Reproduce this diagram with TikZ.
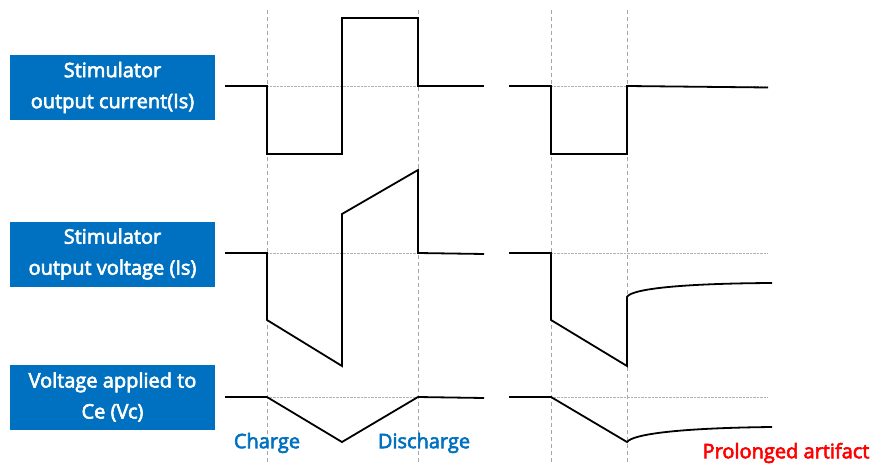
\documentclass[tikz,border=0pt]{standalone}
\usepackage{fontspec}
\setmainfont{Open Sans}[FakeBold=3]
\begin{document}
\begin{tikzpicture}[x=1pt,y=-1pt,
  lab/.style={fill=boxblue,text=white,minimum width=205pt,minimum height=65pt,inner sep=0pt,align=center,font=\fontsize{20}{31}\selectfont},
  sig/.style={line width=1.8pt,line join=miter},
  guide/.style={draw=gray!70,line width=0.7pt,dash pattern=on 4pt off 3pt},
  base/.style={draw=gray!60,line width=0.8pt,dash pattern=on 0.8pt off 0.6pt},
  note/.style={font=\fontsize{20}{24}\selectfont}]
\definecolor{boxblue}{RGB}{0,112,192}
\definecolor{txtblue}{RGB}{0,112,192}
\definecolor{txtred}{RGB}{255,0,0}
\useasboundingbox (0,0) rectangle (877,465);
% guides
\foreach \gx in {267,418,551,627} \draw[guide] (\gx,10) -- (\gx,465);
% baselines
\draw[base] (267,86) -- (418,86);
\draw[base] (551,86) -- (768,86);
\draw[base] (267,253) -- (418,253);
\draw[base] (551,253) -- (768,253);
\draw[base] (267,397) -- (418,397);
\draw[base] (551,397) -- (768,397);
% labels
\node[lab] (b1) at (112.5,87.5) {Stimulator\\output current(Is)};
\node[lab] (b2) at (112.5,254) {Stimulator\\output voltage (Is)};
\node[lab] (b3) at (112.5,397) {Voltage applied to\\Ce (Vc)};
% current traces
\draw[sig] (225,86) -- (267,86) -- (267,154) -- (342,154) -- (342,18) -- (418,18) -- (418,86) -- (484,86);
\draw[sig] (509,86) -- (551,86) -- (551,154) -- (627,154) -- (627,86) -- (768,87.5);
% voltage traces
\draw[sig] (225,253) -- (267,253) -- (267,320) -- (342,366) -- (342,214) -- (418,170) -- (418,253) -- (484,254);
\draw[sig] (509,253) -- (551,253) -- (551,320) -- (627,366) -- (627,297) .. controls (631,289) and (680,283.5) .. (772,283);
% Vc traces
\draw[sig] (225,397) -- (267,397) -- (342,442) -- (418,397) -- (484,398);
\draw[sig] (509,397) -- (551,397) -- (627,442) .. controls (633,434) and (680,428) .. (772,427);
% notes
\node[note,text=txtblue] (ch) at (267,443) {Charge};
\node[note,text=txtblue] (dch) at (424,443) {Discharge};
\node[note,text=txtred] (pa) at (786,453) {Prolonged artifact};
\end{tikzpicture}
\end{document}
